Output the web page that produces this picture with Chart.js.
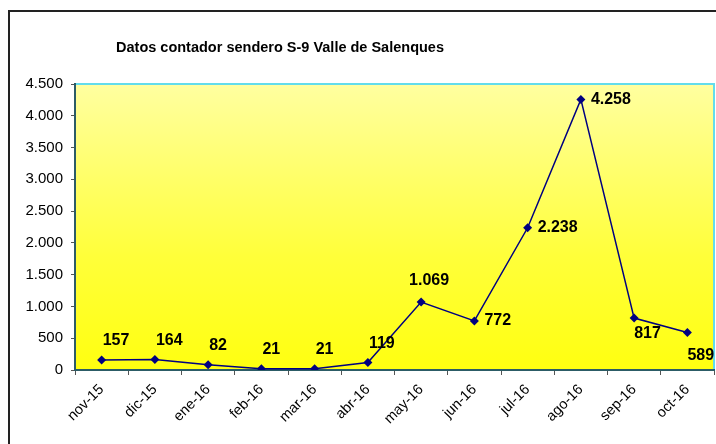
<!DOCTYPE html>
<html lang="es">
<head>
    <meta charset="UTF-8">
    <script src="https://cdn.jsdelivr.net/npm/chart.js@4"></script>
    <title>Datos contador sendero S-9</title>
    <style type="text/css">
        body {
            margin: 0;
            width: 716px;
            height: 444px;
            overflow: hidden;
            background: #fff;
            position: relative;
        }
        #frame {
            position: absolute;
            left: 8px;
            top: 10px;
            width: 800px;
            height: 500px;
            border: 2px solid #222;
        }
        #chartCanvas {
            position: absolute;
            left: 0;
            top: 0;
        }
    </style>
</head>
<body>
    <div id="frame"></div>
    <canvas id="chartCanvas" width="716" height="444"></canvas>
<script>
// data
var chartTitle = 'Datos contador sendero S-9 Valle de Salenques';
var months = ['nov-15', 'dic-15', 'ene-16', 'feb-16', 'mar-16', 'abr-16',
              'may-16', 'jun-16', 'jul-16', 'ago-16', 'sep-16', 'oct-16'];
var visitors = [157, 164, 82, 21, 21, 119, 1069, 772, 2238, 4258, 817, 589];
var yMin = 0;
var yMax = 4500;
var yStep = 500;
// where each value label sits relative to its point
var labelSide = ['above', 'above', 'above', 'above', 'above', 'above',
                 'top', 'right', 'right', 'right', 'below', 'below'];

var fontFamily = 'Arial, "Liberation Sans", sans-serif';
Chart.defaults.font.family = fontFamily;
Chart.defaults.color = '#000';

function fmt(v) {
    return String(v).replace(/\B(?=(\d{3})+(?!\d))/g, '.');
}

var plotDecor = {
    id: 'plotDecor',
    beforeDraw: function(chart) {
        var ctx = chart.ctx, a = chart.chartArea;
        var g = ctx.createLinearGradient(0, a.top, 0, a.bottom);
        g.addColorStop(0, '#ffffa0');
        g.addColorStop(0.6, '#ffff3a');
        g.addColorStop(1, '#ffff10');
        ctx.save();
        ctx.fillStyle = g;
        ctx.fillRect(a.left, a.top, a.right - a.left, a.bottom - a.top);
        ctx.strokeStyle = '#62dcec';
        ctx.lineWidth = 2;
        ctx.beginPath();
        ctx.moveTo(a.left, a.top);
        ctx.lineTo(a.right, a.top);
        ctx.lineTo(a.right, a.bottom);
        ctx.stroke();
        ctx.restore();
    },
    afterDraw: function(chart) {
        var ctx = chart.ctx;
        ctx.save();
        // title
        ctx.fillStyle = '#000';
        ctx.font = 'bold 14.5px ' + fontFamily;
        ctx.textAlign = 'center';
        ctx.textBaseline = 'middle';
        ctx.fillText(chartTitle, 280, 48);
        // value labels
        ctx.font = 'bold 16px ' + fontFamily;
        var meta = chart.getDatasetMeta(0);
        meta.data.forEach(function(pt, i) {
            var txt = fmt(visitors[i]);
            var side = labelSide[i];
            if (side == 'above') {
                ctx.textAlign = 'left';
                ctx.fillText(txt, pt.x + 1, pt.y - 19);
            } else if (side == 'top') {
                ctx.textAlign = 'center';
                ctx.fillText(txt, pt.x + 8, pt.y - 21);
            } else if (side == 'right') {
                ctx.textAlign = 'left';
                ctx.fillText(txt, pt.x + 10, pt.y);
            } else {
                ctx.textAlign = 'left';
                ctx.fillText(txt, pt.x, pt.y + 16 + (i == visitors.length - 1 ? 7 : 0));
            }
        });
        ctx.restore();
    }
};

var chart = new Chart(document.getElementById('chartCanvas'), {
    type: 'line',
    data: {
        labels: months,
        datasets: [{
            data: visitors,
            borderColor: '#000080',
            backgroundColor: '#000080',
            borderWidth: 1.5,
            pointStyle: 'rectRot',
            pointRadius: 4.5,
            pointBorderWidth: 0,
            tension: 0
        }]
    },
    options: {
        responsive: false,
        animation: false,
        layout: {autoPadding: false, padding: {left: 8, top: 84, right: 2, bottom: 0}},
        plugins: {
            legend: {display: false},
            title: {display: false},
            tooltip: {enabled: false}
        },
        scales: {
            x: {
                offset: true,
                grid: {offset: true, drawOnChartArea: false, tickLength: 5, color: '#555'},
                border: {color: '#2c5c66', width: 2},
                ticks: {minRotation: 45, maxRotation: 45, padding: 6,
                        font: {size: 14.5}, color: '#000'},
                afterFit: function(s) { s.height = 74; s.paddingRight = 0; s.paddingLeft = 0; }
            },
            y: {
                min: yMin,
                max: yMax,
                grid: {drawOnChartArea: false, tickLength: 4, color: '#555'},
                border: {color: '#2c5c66', width: 2},
                ticks: {stepSize: yStep, padding: 8, font: {size: 15}, color: '#000',
                        callback: function(v) { return fmt(v); }},
                afterFit: function(s) { s.width = 67; }
            }
        }
    },
    plugins: [plotDecor]
});
</script>
</body>
</html>
